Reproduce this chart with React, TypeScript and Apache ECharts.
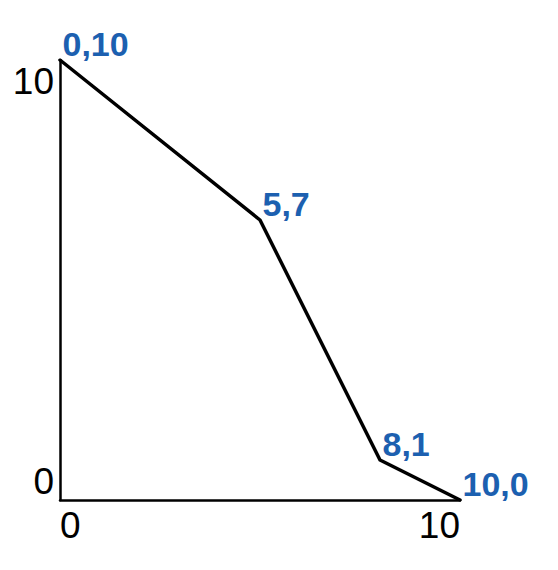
import React, { useEffect, useRef } from 'react';
import * as echarts from 'echarts';

// points (first point sits one unit above the "10" tick)
const xValues = [0, 5, 8, 10];
const yValues = [11, 7, 1, 0];
const pointLabels = ['0,10', '5,7', '8,1', '10,0'];
const xTickLabels = [0, 10];
const yTickLabels = [0, 10];

const FONT = '"Liberation Sans", sans-serif';
const INK = '#000000';
const BLUE = '#1c60b0';

const App = (): JSX.Element => {
  const divEL = useRef<HTMLDivElement>(null);

  useEffect(() => {
    const instance = echarts.init(divEL.current as any, undefined, { renderer: 'svg' });

    const option: echarts.EChartsOption = {
      animation: false,
      backgroundColor: '#ffffff',
      grid: {
        left: 60,
        right: 98,
        top: 60,
        bottom: 70,
      },
      xAxis: {
        type: 'value',
        min: 0,
        max: 10,
        axisLine: { lineStyle: { color: INK, width: 2.5 } },
        axisTick: { show: false },
        splitLine: { show: false },
        axisLabel: {
          customValues: xTickLabels,
          color: INK,
          fontFamily: FONT,
          fontSize: 37,
          margin: 7,
          alignMinLabel: 'left',
          alignMaxLabel: 'right',
        },
      },
      yAxis: {
        type: 'value',
        min: 0,
        max: 11,
        axisLine: { show: true, lineStyle: { color: INK, width: 2.5 } },
        axisTick: { show: false },
        splitLine: { show: false },
        axisLabel: {
          customValues: yTickLabels,
          color: INK,
          fontFamily: FONT,
          fontSize: 37,
          margin: 6,
          verticalAlign: 'bottom',
        },
      },
      series: [
        {
          type: 'line',
          data: xValues.map((x, i) => [x, yValues[i]]),
          symbol: 'circle',
          symbolSize: 1,
          itemStyle: { color: INK },
          lineStyle: { color: INK, width: 3.5, cap: 'round', join: 'round' },
          label: {
            show: true,
            position: 'right',
            distance: 2,
            offset: [0, -16],
            color: BLUE,
            fontFamily: FONT,
            fontWeight: 'bold',
            fontSize: 34,
            formatter: (p: any) => pointLabels[p.dataIndex],
          },
        },
      ],
    };

    instance.setOption(option);

    return () => {
      instance.dispose();
    };
  }, []);

  return (
    <div
      ref={divEL}
      style={{ position: 'absolute', left: 0, top: 0, width: 558, height: 570 }}
    ></div>
  );
};

export default App;
